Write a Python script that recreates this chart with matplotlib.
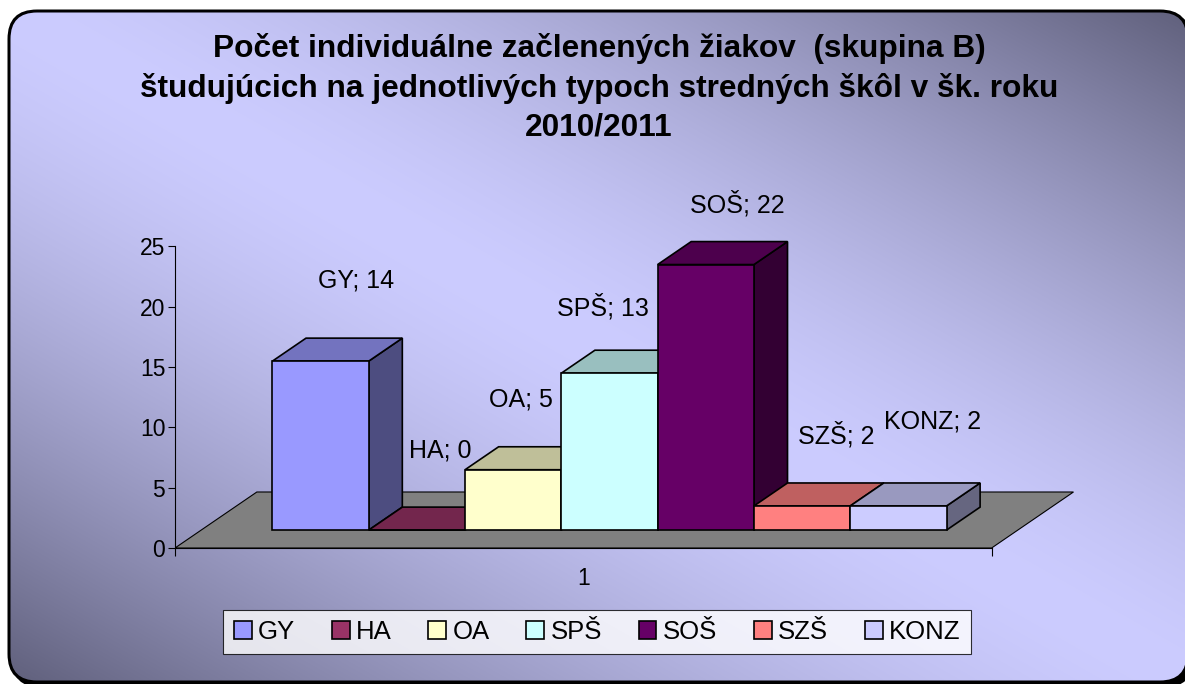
import numpy as np
import matplotlib
matplotlib.use("Agg")
import matplotlib.pyplot as plt
from matplotlib.patches import Polygon, FancyBboxPatch, Patch

plt.rcParams['font.family'] = ['Liberation Sans', 'DejaVu Sans']

# data
categories = ["GY", "HA", "OA", "SPŠ", "SOŠ", "SZŠ", "KONZ"]
values = [14, 0, 5, 13, 22, 2, 2]
colors = ["#9999FF", "#993366", "#FFFFCC", "#CCFFFF", "#660066", "#FF8080", "#CCCCFF"]
title_lines = ["Počet individuálne začlenených žiakov  (skupina B)",
               "študujúcich na jednotlivých typoch stredných škôl v šk. roku",
               "2010/2011"]
yticks = [0, 5, 10, 15, 20, 25]
xlabel = "1"

# label nudges (pixels, relative to bar front top centre)
label_nudge = [(35, 81), (23, 80), (8, 70), (-7, 66), (32, 60), (34, 71), (34, 84)]

W, H = 1185, 684
fig = plt.figure(figsize=(W / 100, H / 100), dpi=100)

# background frame with gradient
bg = fig.add_axes([0, 0, 1, 1])
bg.set_xlim(0, W)
bg.set_ylim(H, 0)
bg.axis('off')

fx, fy, fw, fh, r = 9, 11, 1179, 671, 28
bw = 1.5  # half border width in px
# shadow and border as filled shapes (stroked paths off-canvas render badly)
shadow = FancyBboxPatch((fx + 4 - bw, fy + 4 - bw), fw + 2 * bw, fh + 2 * bw,
                        boxstyle=f"round,pad=0,rounding_size={r + bw}",
                        facecolor='black', edgecolor='none', zorder=0)
bg.add_patch(shadow)
border = FancyBboxPatch((fx - bw, fy - bw), fw + 2 * bw, fh + 2 * bw,
                        boxstyle=f"round,pad=0,rounding_size={r + bw}",
                        facecolor='black', edgecolor='none', zorder=0.5)
bg.add_patch(border)
u, v = np.meshgrid(np.linspace(0, 1, 400), np.linspace(0, 1, 240))
t = np.abs(u - v) ** 1.5
light = np.array([204, 204, 255]) / 255
dark = np.array([96, 96, 124]) / 255
img = light[None, None, :] * (1 - t[..., None]) + dark[None, None, :] * t[..., None]
im = bg.imshow(img, extent=(fx, fx + fw, fy + fh, fy), aspect='auto', zorder=1, interpolation='bilinear')
clip = FancyBboxPatch((fx + bw, fy + bw), fw - 2 * bw, fh - 2 * bw,
                      boxstyle=f"round,pad=0,rounding_size={r - bw}",
                      transform=bg.transData, facecolor='none', edgecolor='none')
bg.add_patch(clip)
im.set_clip_path(clip)

# title
for i, line in enumerate(title_lines):
    fig.text(599 / W, 1 - (48 + 40 * i) / H, line, ha='center', va='center',
             fontsize=22.8, fontweight='bold', color='black')

# 3D-look column chart in a plain axes
sx, sy = 96.3, 12.07          # pixels per bar width / per value unit
zero_px = 548
left_px, right_px, bot_px, top_px = 175, 1100, 565, 170
ax = fig.add_axes([left_px / W, 1 - bot_px / H, (right_px - left_px) / W, (bot_px - top_px) / H])
ax.set_xlim(0, (right_px - left_px) / sx)
ax.set_ylim(-(bot_px - zero_px) / sy, (zero_px - top_px) / sy)
ax.patch.set_alpha(0)

n = len(values)
gap = 0.74
floor_w = n + 2 * gap
ddx, ddy = 0.85, 4.64        # full floor depth
f0, f1 = 0.32, 0.73          # bar depth range
bdx, bdy = (f1 - f0) * ddx, (f1 - f0) * ddy

floor = Polygon([(0, 0), (floor_w, 0), (floor_w + ddx, ddy), (ddx, ddy)],
                closed=True, facecolor='#808080', edgecolor='black', linewidth=0.8, zorder=1)
ax.add_patch(floor)

def shade(c, k):
    r, g, b = matplotlib.colors.to_rgb(c)
    return (r * k, g * k, b * k)

xs = [gap + i + f0 * ddx for i in range(n)]
base = f0 * ddy
bars = ax.bar(xs, values, width=1, bottom=base, align='edge', color=colors,
              edgecolor='black', linewidth=1.2)
for i, (x0, val, c) in enumerate(zip(xs, values, colors)):
    z = 2 + 3 * i
    yt = base + val
    side = Polygon([(x0 + 1, base), (x0 + 1, yt), (x0 + 1 + bdx, yt + bdy), (x0 + 1 + bdx, base + bdy)],
                   closed=True, facecolor=shade(c, 0.5), edgecolor='black', linewidth=1.2, zorder=z)
    top = Polygon([(x0, yt), (x0 + 1, yt), (x0 + 1 + bdx, yt + bdy), (x0 + bdx, yt + bdy)],
                  closed=True, facecolor=shade(c, 0.75), edgecolor='black', linewidth=1.2, zorder=z + 1)
    ax.add_patch(side)
    ax.add_patch(top)
    bars[i].set_zorder(z + 2)
    dxp, dyp = label_nudge[i]
    ax.annotate(f"{categories[i]}; {val}", xy=(x0 + 0.5, yt), xytext=(dxp * 0.72, dyp * 0.72),
                textcoords='offset points', ha='center', va='center', fontsize=18, zorder=40)

# axes
for s in ['top', 'right']:
    ax.spines[s].set_visible(False)
ax.spines['left'].set_bounds(0, 25)
ax.spines['bottom'].set_position(('data', 0))
ax.spines['bottom'].set_bounds(0, floor_w)
for s in ['left', 'bottom']:
    ax.spines[s].set_linewidth(0.8)
    ax.spines[s].set_zorder(0.5)
ax.set_yticks(yticks)
ax.tick_params(axis='y', direction='out', length=5, width=0.8, labelsize=16.5, pad=2)
ax.set_xticks([floor_w / 2])
ax.set_xticklabels([xlabel])
ax.set_xticks([0, floor_w], minor=True)
ax.tick_params(axis='x', which='major', length=0, labelsize=16.5, pad=14)
ax.tick_params(axis='x', which='minor', direction='out', length=6, width=0.8)

# legend
handles = [Patch(facecolor=c, edgecolor='black', linewidth=1.2) for c in colors]
leg = fig.legend(handles, categories, loc='center', bbox_to_anchor=(597 / W, 1 - 632 / H), ncol=7,
                 fontsize=18.5, frameon=True, fancybox=False, edgecolor='black',
                 handlelength=0.7, handleheight=0.7, handletextpad=0.25, columnspacing=1.42,
                 borderpad=0.4)
leg.get_frame().set_linewidth(0.8)
leg.get_frame().set_facecolor('white')

fig.savefig("out.png", dpi=100)
